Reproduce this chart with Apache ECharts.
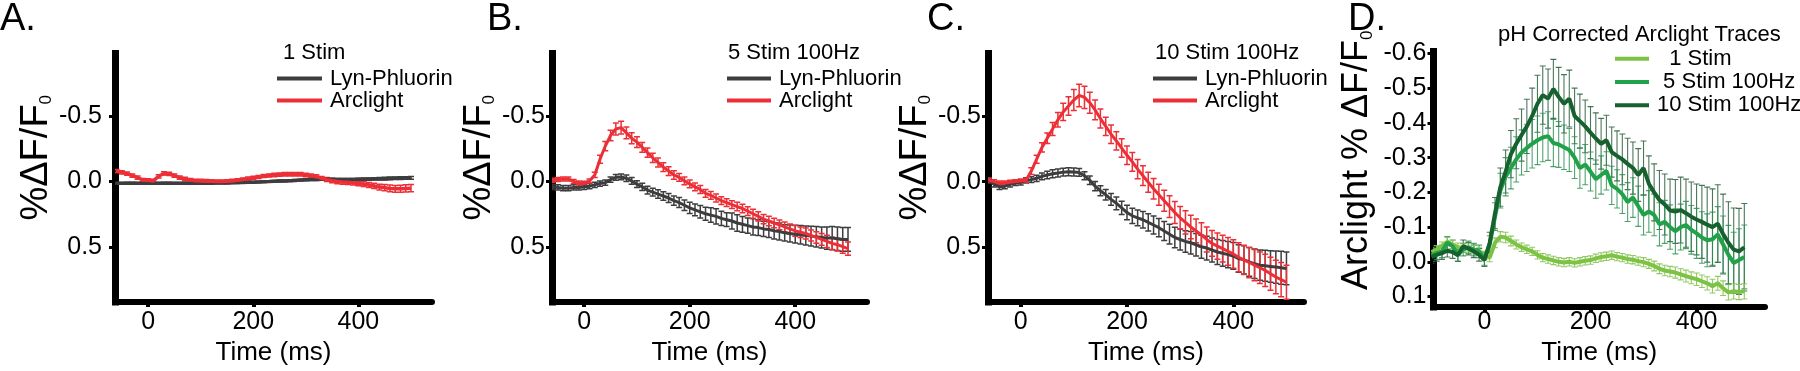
<!DOCTYPE html>
<html>
<head>
<meta charset="utf-8">
<title>Arclight vs Lyn-Phluorin</title>
<script src="https://cdn.jsdelivr.net/npm/echarts@6/dist/echarts.min.js"></script>
<style>
  html, body { margin: 0; padding: 0; background: #fff; }
  #chart { width: 1800px; height: 371px; }
</style>
</head>
<body>
<div id="chart"></div>
<script>
  // time points (ms)
  const timesABC = [
    -60, -50, -40, -30, -20, -10, 0, 10, 20, 30,
    40, 50, 60, 70, 80, 90, 100, 110, 120, 130,
    140, 150, 160, 170, 180, 190, 200, 210, 220, 230,
    240, 250, 260, 270, 280, 290, 300, 310, 320, 330,
    340, 350, 360, 370, 380, 390, 400, 410, 420, 430,
    440, 450, 460, 470, 480, 490, 500
  ];
  const timesD = [
    -100, -90, -80, -70, -60, -50, -40, -30, -20, -10,
    0, 10, 20, 30, 40, 50, 60, 70, 80, 90,
    100, 110, 120, 130, 140, 150, 160, 170, 180, 190,
    200, 210, 220, 230, 240, 250, 260, 270, 280, 290,
    300, 310, 320, 330, 340, 350, 360, 370, 380, 390,
    400, 410, 420, 430, 440, 450, 460, 470, 480, 490
  ];

  // A. 1 Stim
  const aLyn = [
    0.013, 0.013, 0.012, 0.012, 0.013, 0.013, 0.012, 0.012, 0.013, 0.012,
    0.012, 0.013, 0.013, 0.012, 0.012, 0.013, 0.012, 0.012, 0.012, 0.011,
    0.011, 0.010, 0.009, 0.008, 0.007, 0.006, 0.005, 0.003, 0.001, 0.000,
    -0.002, -0.004, -0.005, -0.007, -0.009, -0.011, -0.013, -0.015, -0.016, -0.017,
    -0.017, -0.017, -0.016, -0.015, -0.015, -0.016, -0.017, -0.018, -0.019, -0.020,
    -0.021, -0.022, -0.024, -0.025, -0.026, -0.027, -0.028
  ];
  const aLynErr = [
    0.006, 0.006, 0.006, 0.006, 0.006, 0.006, 0.006, 0.006, 0.006, 0.006,
    0.006, 0.006, 0.006, 0.006, 0.006, 0.006, 0.006, 0.006, 0.006, 0.006,
    0.006, 0.006, 0.006, 0.006, 0.006, 0.006, 0.006, 0.006, 0.006, 0.006,
    0.007, 0.007, 0.007, 0.007, 0.007, 0.007, 0.007, 0.007, 0.007, 0.007,
    0.008, 0.008, 0.008, 0.008, 0.008, 0.008, 0.009, 0.009, 0.009, 0.009,
    0.010, 0.010, 0.010, 0.010, 0.010, 0.010, 0.010
  ];
  const aArc = [
    -0.080, -0.070, -0.060, -0.045, -0.030, -0.012, -0.010, -0.005, -0.040, -0.062,
    -0.058, -0.045, -0.030, -0.020, -0.012, -0.006, -0.005, -0.003, -0.002, 0.000,
    0.000, -0.002, -0.005, -0.010, -0.015, -0.022, -0.028, -0.035, -0.042, -0.046,
    -0.050, -0.053, -0.055, -0.055, -0.056, -0.055, -0.050, -0.045, -0.037, -0.025,
    -0.015, -0.006, 0.000, 0.004, 0.006, 0.010, 0.014, 0.020, 0.026, 0.033,
    0.042, 0.046, 0.052, 0.055, 0.055, 0.052, 0.050
  ];
  const aArcErr = [
    0.012, 0.012, 0.012, 0.012, 0.012, 0.012, 0.012, 0.012, 0.012, 0.012,
    0.012, 0.012, 0.012, 0.012, 0.012, 0.012, 0.012, 0.012, 0.012, 0.012,
    0.012, 0.012, 0.012, 0.012, 0.012, 0.012, 0.012, 0.012, 0.012, 0.012,
    0.013, 0.013, 0.013, 0.013, 0.013, 0.013, 0.013, 0.013, 0.014, 0.014,
    0.015, 0.015, 0.016, 0.016, 0.016, 0.017, 0.017, 0.018, 0.019, 0.020,
    0.022, 0.023, 0.025, 0.026, 0.027, 0.027, 0.028
  ];

  // B. 5 Stim 100Hz
  const bLyn = [
    0.040, 0.045, 0.050, 0.050, 0.045, 0.045, 0.040, 0.035, 0.025, 0.015,
    0.008, -0.015, -0.032, -0.035, -0.025, -0.005, 0.020, 0.040, 0.065, 0.080,
    0.095, 0.110, 0.125, 0.145, 0.160, 0.180, 0.200, 0.215, 0.230, 0.245,
    0.255, 0.265, 0.280, 0.290, 0.300, 0.315, 0.325, 0.335, 0.345, 0.350,
    0.360, 0.365, 0.375, 0.380, 0.390, 0.395, 0.400, 0.405, 0.410, 0.415,
    0.420, 0.425, 0.430, 0.430, 0.435, 0.440, 0.440
  ];
  const bLynErr = [
    0.020, 0.020, 0.020, 0.020, 0.020, 0.020, 0.020, 0.020, 0.020, 0.020,
    0.020, 0.020, 0.022, 0.022, 0.024, 0.025, 0.026, 0.028, 0.030, 0.030,
    0.032, 0.033, 0.035, 0.036, 0.038, 0.040, 0.042, 0.045, 0.048, 0.050,
    0.055, 0.058, 0.055, 0.052, 0.060, 0.062, 0.060, 0.058, 0.062, 0.060,
    0.058, 0.060, 0.062, 0.065, 0.062, 0.065, 0.068, 0.070, 0.072, 0.075,
    0.078, 0.080, 0.085, 0.088, 0.090, 0.090, 0.090
  ];
  const bArc = [
    -0.010, -0.015, -0.020, -0.020, 0.000, 0.010, 0.012, -0.005, -0.050, -0.170,
    -0.270, -0.350, -0.400, -0.410, -0.370, -0.330, -0.300, -0.260, -0.220, -0.180,
    -0.145, -0.110, -0.080, -0.050, -0.032, -0.005, 0.018, 0.040, 0.060, 0.090,
    0.105, 0.125, 0.145, 0.160, 0.175, 0.190, 0.205, 0.225, 0.245, 0.265,
    0.285, 0.300, 0.315, 0.330, 0.345, 0.360, 0.375, 0.385, 0.395, 0.410,
    0.425, 0.440, 0.455, 0.470, 0.480, 0.495, 0.510
  ];
  const bArcErr = [
    0.015, 0.015, 0.015, 0.015, 0.015, 0.015, 0.015, 0.015, 0.020, 0.030,
    0.035, 0.040, 0.045, 0.048, 0.045, 0.042, 0.040, 0.038, 0.036, 0.035,
    0.035, 0.034, 0.033, 0.032, 0.030, 0.030, 0.030, 0.030, 0.030, 0.030,
    0.030, 0.030, 0.030, 0.030, 0.030, 0.032, 0.032, 0.033, 0.034, 0.035,
    0.035, 0.036, 0.036, 0.037, 0.038, 0.038, 0.040, 0.040, 0.042, 0.042,
    0.044, 0.045, 0.046, 0.047, 0.048, 0.050, 0.050
  ];

  // C. 10 Stim 100Hz
  const cLyn = [
    -0.010, 0.020, 0.040, 0.035, 0.020, 0.010, 0.005, -0.010, -0.015, -0.025,
    -0.040, -0.050, -0.060, -0.065, -0.072, -0.075, -0.073, -0.070, -0.045, -0.010,
    0.035, 0.070, 0.100, 0.135, 0.165, 0.200, 0.235, 0.260, 0.275, 0.290,
    0.310, 0.330, 0.350, 0.375, 0.400, 0.425, 0.440, 0.455, 0.465, 0.480,
    0.495, 0.505, 0.520, 0.535, 0.545, 0.555, 0.565, 0.585, 0.595, 0.610,
    0.625, 0.635, 0.640, 0.645, 0.650, 0.655, 0.660
  ];
  const cLynErr = [
    0.020, 0.020, 0.020, 0.020, 0.020, 0.020, 0.020, 0.020, 0.022, 0.024,
    0.026, 0.028, 0.030, 0.030, 0.030, 0.030, 0.030, 0.030, 0.030, 0.032,
    0.035, 0.038, 0.040, 0.045, 0.048, 0.050, 0.055, 0.058, 0.060, 0.062,
    0.065, 0.068, 0.070, 0.072, 0.075, 0.078, 0.080, 0.082, 0.085, 0.085,
    0.088, 0.090, 0.092, 0.095, 0.098, 0.100, 0.102, 0.105, 0.108, 0.110,
    0.112, 0.115, 0.118, 0.120, 0.122, 0.125, 0.125
  ];
  const cArc = [
    -0.010, 0.000, 0.010, 0.010, 0.005, 0.000, -0.005, -0.010, -0.080, -0.170,
    -0.260, -0.330, -0.400, -0.470, -0.530, -0.575, -0.620, -0.655, -0.640, -0.600,
    -0.545, -0.480, -0.420, -0.360, -0.310, -0.255, -0.200, -0.150, -0.095, -0.045,
    0.005, 0.055, 0.100, 0.145, 0.190, 0.235, 0.275, 0.310, 0.345, 0.375,
    0.405, 0.440, 0.470, 0.490, 0.510, 0.530, 0.550, 0.575, 0.595, 0.615,
    0.635, 0.655, 0.675, 0.700, 0.725, 0.745, 0.765
  ];
  const cArcErr = [
    0.015, 0.015, 0.015, 0.015, 0.015, 0.015, 0.015, 0.015, 0.025, 0.030,
    0.035, 0.040, 0.050, 0.055, 0.065, 0.070, 0.080, 0.085, 0.085, 0.080,
    0.075, 0.072, 0.070, 0.070, 0.070, 0.070, 0.070, 0.072, 0.074, 0.075,
    0.076, 0.078, 0.080, 0.080, 0.082, 0.084, 0.085, 0.088, 0.090, 0.090,
    0.092, 0.095, 0.098, 0.100, 0.102, 0.105, 0.108, 0.110, 0.112, 0.115,
    0.118, 0.120, 0.122, 0.125, 0.128, 0.130, 0.130
  ];

  // D. pH corrected Arclight traces
  const d1Stim = [
    -0.028, -0.035, -0.045, -0.058, -0.050, -0.042, -0.040, -0.040, -0.035, -0.030,
    -0.018, -0.012, -0.055, -0.072, -0.070, -0.060, -0.050, -0.042, -0.036, -0.030,
    -0.020, -0.012, -0.008, -0.004, 0.000, 0.002, 0.000, 0.003, 0.000, -0.003,
    -0.005, -0.010, -0.014, -0.016, -0.019, -0.015, -0.012, -0.008, -0.006, -0.002,
    0.001, 0.006, 0.012, 0.020, 0.025, 0.028, 0.031, 0.036, 0.041, 0.046,
    0.050, 0.056, 0.062, 0.070, 0.062, 0.076, 0.088, 0.085, 0.087, 0.085
  ];
  const d1StimErr = [
    0.012, 0.012, 0.012, 0.012, 0.012, 0.012, 0.012, 0.012, 0.012, 0.012,
    0.012, 0.012, 0.014, 0.015, 0.015, 0.014, 0.013, 0.012, 0.012, 0.012,
    0.012, 0.012, 0.012, 0.012, 0.012, 0.012, 0.012, 0.012, 0.012, 0.012,
    0.012, 0.012, 0.012, 0.012, 0.012, 0.012, 0.012, 0.012, 0.012, 0.012,
    0.013, 0.013, 0.014, 0.014, 0.015, 0.015, 0.016, 0.016, 0.017, 0.017,
    0.018, 0.018, 0.019, 0.020, 0.020, 0.021, 0.022, 0.022, 0.022, 0.022
  ];
  const d5Stim = [
    -0.019, -0.025, -0.030, -0.055, -0.045, -0.020, -0.035, -0.042, -0.035, -0.030,
    -0.008, -0.050, -0.130, -0.205, -0.245, -0.270, -0.295, -0.315, -0.328, -0.340,
    -0.350, -0.358, -0.362, -0.342, -0.338, -0.330, -0.322, -0.300, -0.270, -0.280,
    -0.260, -0.238, -0.250, -0.262, -0.220, -0.210, -0.195, -0.172, -0.185, -0.160,
    -0.135, -0.145, -0.135, -0.108, -0.115, -0.100, -0.088, -0.100, -0.106, -0.092,
    -0.082, -0.070, -0.062, -0.065, -0.079, -0.050, -0.020, 0.003, -0.005, -0.014
  ];
  const d5StimErr = [
    0.018, 0.018, 0.018, 0.018, 0.018, 0.018, 0.018, 0.018, 0.018, 0.018,
    0.018, 0.025, 0.040, 0.050, 0.055, 0.060, 0.065, 0.065, 0.068, 0.070,
    0.070, 0.070, 0.070, 0.068, 0.066, 0.064, 0.062, 0.060, 0.058, 0.058,
    0.056, 0.055, 0.055, 0.055, 0.055, 0.055, 0.056, 0.056, 0.057, 0.058,
    0.058, 0.060, 0.060, 0.062, 0.062, 0.064, 0.065, 0.066, 0.068, 0.070,
    0.072, 0.074, 0.076, 0.078, 0.080, 0.082, 0.085, 0.088, 0.090, 0.092
  ];
  const d10Stim = [
    -0.014, -0.020, -0.025, -0.032, -0.028, -0.019, -0.045, -0.038, -0.030, -0.020,
    -0.005, -0.055, -0.140, -0.215, -0.260, -0.310, -0.340, -0.365, -0.390, -0.420,
    -0.455, -0.480, -0.470, -0.498, -0.475, -0.455, -0.470, -0.420, -0.405, -0.390,
    -0.372, -0.355, -0.340, -0.350, -0.316, -0.305, -0.295, -0.282, -0.270, -0.250,
    -0.270, -0.225, -0.200, -0.178, -0.165, -0.148, -0.145, -0.149, -0.140, -0.130,
    -0.122, -0.115, -0.107, -0.100, -0.110, -0.080, -0.055, -0.035, -0.030, -0.042
  ];
  const d10StimErr = [
    0.018, 0.018, 0.018, 0.018, 0.018, 0.018, 0.018, 0.018, 0.018, 0.018,
    0.018, 0.030, 0.045, 0.055, 0.062, 0.068, 0.072, 0.075, 0.078, 0.080,
    0.082, 0.084, 0.085, 0.085, 0.085, 0.084, 0.082, 0.080, 0.078, 0.076,
    0.075, 0.074, 0.073, 0.072, 0.072, 0.072, 0.073, 0.074, 0.075, 0.076,
    0.078, 0.080, 0.082, 0.085, 0.088, 0.090, 0.092, 0.095, 0.098, 0.100,
    0.102, 0.105, 0.108, 0.110, 0.112, 0.115, 0.118, 0.120, 0.124, 0.126
  ];

  // tick labels
  const xTicks = [0, 200, 400];
  const yTicksABC = [-0.5, 0, 0.5];
  const yTicksD = [-0.6, -0.5, -0.4, -0.3, -0.2, -0.1, 0, 0.1];

  const FONT = 'Liberation Sans, Arial, sans-serif';
  const GRAY = '#3d3d3f';
  const RED = '#ec2f36';
  const GREEN1 = '#7cc243';
  const GREEN5 = '#22a14b';
  const GREEN10 = '#17612f';

  // panel layout (pixels) and axis ranges
  const panels = [
    {left: 115, width: 317, top: 53.5, height: 252, x: [-63, 540], y: [-0.974, 0.916], yTicks: yTicksABC, labelMargin: 13, xNameGap: 38, xLabelMargin: 8},
    {left: 552, width: 315, top: 53.5, height: 252, x: [-61, 536], y: [-0.974, 0.916], yTicks: yTicksABC, labelMargin: 7, xNameGap: 38, xLabelMargin: 8},
    {left: 988, width: 316, top: 53.5, height: 252, x: [-61.5, 533], y: [-0.974, 0.916], yTicks: yTicksABC, labelMargin: 7, xNameGap: 32, xLabelMargin: 8},
    {left: 1433.5, width: 331.5, top: 51.5, height: 263.5, x: [-96, 529], y: [-0.6056, 0.1304], yTicks: yTicksD, labelMargin: 7, xNameGap: 28, xLabelMargin: 3}
  ];

  function meanLine (idx, name, times, mean, color, width) {
    return {
      type: 'line',
      name: name,
      xAxisIndex: idx,
      yAxisIndex: idx,
      data: times.map(function (t, i) { return [t, mean[i]]; }),
      showSymbol: false,
      symbol: 'none',
      clip: true,
      z: 3,
      lineStyle: {color: color, width: width},
      itemStyle: {color: color}
    };
  }

  function errorBars (idx, times, mean, err, color, capHalf, width) {
    return {
      type: 'custom',
      xAxisIndex: idx,
      yAxisIndex: idx,
      silent: true,
      clip: true,
      z: 2,
      encode: {x: 0, y: [1, 2]},
      data: times.map(function (t, i) { return [t, mean[i] - err[i], mean[i] + err[i]]; }),
      renderItem: function (params, api) {
        const lo = api.coord([api.value(0), api.value(1)]);
        const hi = api.coord([api.value(0), api.value(2)]);
        const st = {stroke: color, lineWidth: width};
        return {
          type: 'group',
          children: [
            {type: 'line', shape: {x1: lo[0], y1: lo[1], x2: hi[0], y2: hi[1]}, style: st},
            {type: 'line', shape: {x1: lo[0] - capHalf, y1: lo[1], x2: lo[0] + capHalf, y2: lo[1]}, style: st},
            {type: 'line', shape: {x1: hi[0] - capHalf, y1: hi[1], x2: hi[0] + capHalf, y2: hi[1]}, style: st}
          ]
        };
      }
    };
  }

  const grids = panels.map(function (p) {
    return {left: p.left, top: p.top, width: p.width, height: p.height, containLabel: false};
  });

  const xAxes = panels.map(function (p, i) {
    return {
      type: 'value',
      gridIndex: i,
      position: 'bottom',
      min: p.x[0],
      max: p.x[1],
      name: 'Time (ms)',
      nameLocation: 'middle',
      nameGap: p.xNameGap,
      nameTextStyle: {fontFamily: FONT, fontSize: 26, color: '#000'},
      axisLine: {show: true, onZero: false, lineStyle: {color: '#000', width: 6}},
      axisTick: {show: true, customValues: xTicks, length: 5, lineStyle: {color: '#000', width: 4}},
      axisLabel: {customValues: xTicks, margin: p.xLabelMargin, fontFamily: FONT, fontSize: 25, color: '#000'},
      splitLine: {show: false}
    };
  });

  const yNameABC = {
    name: '{a|%ΔF/F}{b|0}',
    nameGap: 49,
    nameTextStyle: {
      padding: [0, 0, 0, 40],
      rich: {
        a: {fontFamily: FONT, fontSize: 38, color: '#000', verticalAlign: 'top', lineHeight: 38},
        b: {fontFamily: FONT, fontSize: 17, color: '#000', verticalAlign: 'bottom', lineHeight: 17, padding: [26, 0, 0, 0]}
      }
    }
  };
  const yNameD = {
    name: '{a|Arclight % ΔF/F}{b|0}',
    nameGap: 58,
    nameTextStyle: {
      padding: [0, 0, 0, 38],
      rich: {
        a: {fontFamily: FONT, fontSize: 36, color: '#000', verticalAlign: 'top', lineHeight: 36},
        b: {fontFamily: FONT, fontSize: 17, color: '#000', verticalAlign: 'bottom', lineHeight: 17, padding: [25, 0, 0, 0]}
      }
    }
  };

  const yAxes = panels.map(function (p, i) {
    const nm = i === 3 ? yNameD : yNameABC;
    return {
      type: 'value',
      gridIndex: i,
      position: 'left',
      inverse: true,
      min: p.y[0],
      max: p.y[1],
      name: nm.name,
      nameLocation: 'middle',
      nameRotate: 90,
      nameGap: nm.nameGap,
      nameTextStyle: nm.nameTextStyle,
      axisLine: {show: true, onZero: false, lineStyle: {color: '#000', width: 7, cap: 'square'}},
      axisTick: {show: true, customValues: p.yTicks, length: 6, lineStyle: {color: '#000', width: 3}},
      axisLabel: {
        customValues: p.yTicks,
        margin: p.labelMargin,
        fontFamily: FONT,
        fontSize: 25,
        color: '#000',
        formatter: function (v) { return v.toFixed(1); }
      },
      splitLine: {show: false}
    };
  });

  const series = [
    errorBars(0, timesABC, aLyn, aLynErr, GRAY, 3, 1.5),
    meanLine(0, 'Lyn-Phluorin', timesABC, aLyn, GRAY, 3.5),
    errorBars(0, timesABC, aArc, aArcErr, RED, 3, 1.5),
    meanLine(0, 'Arclight', timesABC, aArc, RED, 3.5),

    errorBars(1, timesABC, bLyn, bLynErr, GRAY, 3, 1.5),
    meanLine(1, 'Lyn-Phluorin', timesABC, bLyn, GRAY, 3),
    errorBars(1, timesABC, bArc, bArcErr, RED, 3, 1.5),
    meanLine(1, 'Arclight', timesABC, bArc, RED, 3),

    errorBars(2, timesABC, cLyn, cLynErr, GRAY, 3, 1.5),
    meanLine(2, 'Lyn-Phluorin', timesABC, cLyn, GRAY, 3),
    errorBars(2, timesABC, cArc, cArcErr, RED, 3, 1.5),
    meanLine(2, 'Arclight', timesABC, cArc, RED, 3),

    errorBars(3, timesD, d10Stim, d10StimErr, 'rgba(45,95,62,0.85)', 3, 1.1),
    errorBars(3, timesD, d5Stim, d5StimErr, 'rgba(40,140,78,0.8)', 3, 1.1),
    errorBars(3, timesD, d1Stim, d1StimErr, 'rgba(135,195,85,0.9)', 3, 1.1),
    meanLine(3, '1 Stim', timesD, d1Stim, GREEN1, 4),
    meanLine(3, '5 Stim 100Hz', timesD, d5Stim, GREEN5, 4),
    meanLine(3, '10 Stim 100Hz', timesD, d10Stim, GREEN10, 4)
  ];

  const textStyle = {fontFamily: FONT, fontSize: 22, color: '#000', fontWeight: 'normal'};

  function panelLegend (left, top, names, width, lineHeight, formatter) {
    return {
      orient: 'vertical',
      left: left,
      top: top,
      padding: 0,
      itemGap: 0,
      itemWidth: width,
      itemHeight: 4,
      icon: 'rect',
      selectedMode: false,
      data: names,
      formatter: formatter,
      textStyle: {fontFamily: FONT, fontSize: 22, color: '#000', lineHeight: lineHeight, padding: [0, 0, 0, 3]}
    };
  }

  const dNames = {'1 Stim': '  1 Stim', '5 Stim 100Hz': ' 5 Stim 100Hz', '10 Stim 100Hz': '10 Stim 100Hz'};

  const option = {
    animation: false,
    backgroundColor: '#fff',
    title: [
      {text: 'A.', left: 0, top: 1, padding: 0, textStyle: {fontFamily: FONT, fontSize: 38, fontWeight: 'normal', color: '#000'}},
      {text: 'B.', left: 487, top: 1, padding: 0, textStyle: {fontFamily: FONT, fontSize: 38, fontWeight: 'normal', color: '#000'}},
      {text: 'C.', left: 927, top: 1, padding: 0, textStyle: {fontFamily: FONT, fontSize: 38, fontWeight: 'normal', color: '#000'}},
      {text: 'D.', left: 1348, top: 1, padding: 0, textStyle: {fontFamily: FONT, fontSize: 38, fontWeight: 'normal', color: '#000'}},
      {text: '1 Stim', left: 283, top: 42, padding: 0, textStyle: textStyle},
      {text: '5 Stim 100Hz', left: 728, top: 42, padding: 0, textStyle: textStyle},
      {text: '10 Stim 100Hz', left: 1155, top: 42, padding: 0, textStyle: textStyle},
      {text: 'pH Corrected Arclight Traces', left: 1498, top: 24, padding: 0, textStyle: textStyle}
    ],
    legend: [
      panelLegend(277, 67.5, ['Lyn-Phluorin', 'Arclight'], 45, 21),
      panelLegend(727, 67.5, ['Lyn-Phluorin', 'Arclight'], 44, 21),
      panelLegend(1153, 67.5, ['Lyn-Phluorin', 'Arclight'], 44, 21),
      panelLegend(1615, 47, ['1 Stim', '5 Stim 100Hz', '10 Stim 100Hz'], 34, 23.3, function (n) { return dNames[n]; })
    ],
    grid: grids,
    xAxis: xAxes,
    yAxis: yAxes,
    series: series
  };

  const chart = echarts.init(document.getElementById('chart'), null, {renderer: 'canvas'});
  chart.setOption(option);
</script>
</body>
</html>
